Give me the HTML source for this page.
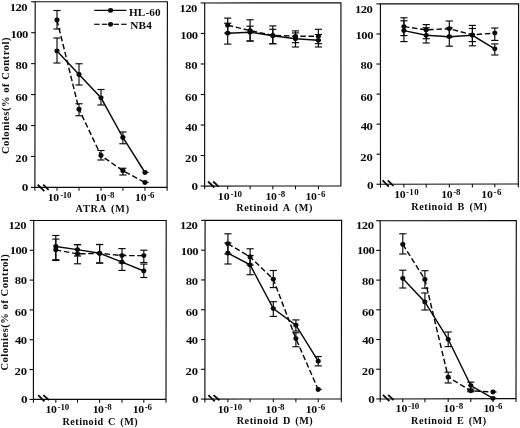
<!DOCTYPE html>
<html><head><meta charset="utf-8"><title>Colony assays</title>
<style>
html,body{margin:0;padding:0;background:#fff;}
body{width:520px;height:428px;overflow:hidden;}
svg{display:block;opacity:0.999;will-change:transform;font-family:"Liberation Serif",serif;font-weight:bold;}
svg text{fill:#0a0a0a;stroke:#0a0a0a;stroke-width:0.0;white-space:pre;}
</style></head><body>
<svg width="520" height="428" viewBox="0 0 520 428" stroke="#0a0a0a">
<rect x="0" y="0" width="520" height="428" fill="#fff" stroke="none"/>
<polygon points="35.20,1.75 167.40,1.75 167.10,187.40 34.90,187.40" fill="none" stroke-width="1.15"/>
<line x1="30.90" y1="187.40" x2="34.90" y2="187.40" stroke-width="1.1"/>
<text transform="translate(21.81,191.00) scale(1.2314,1)" font-size="10.7" letter-spacing="0.000">0</text>
<line x1="30.95" y1="156.46" x2="34.95" y2="156.46" stroke-width="1.1"/>
<text transform="translate(15.26,162.00) scale(1.1800,1)" font-size="10.7" letter-spacing="-0.098">20</text>
<line x1="31.00" y1="125.52" x2="35.00" y2="125.52" stroke-width="1.1"/>
<text transform="translate(15.64,131.00) scale(1.1800,1)" font-size="10.7" letter-spacing="-0.419">40</text>
<line x1="31.05" y1="94.58" x2="35.05" y2="94.58" stroke-width="1.1"/>
<text transform="translate(15.39,101.00) scale(1.1800,1)" font-size="10.7" letter-spacing="-0.205">60</text>
<line x1="31.10" y1="63.63" x2="35.10" y2="63.63" stroke-width="1.1"/>
<text transform="translate(15.39,69.00) scale(1.1800,1)" font-size="10.7" letter-spacing="-0.205">80</text>
<line x1="31.15" y1="32.69" x2="35.15" y2="32.69" stroke-width="1.1"/>
<text transform="translate(10.49,38.00) scale(1.1800,1)" font-size="10.7" letter-spacing="-0.447">100</text>
<line x1="31.20" y1="1.75" x2="35.20" y2="1.75" stroke-width="1.1"/>
<text transform="translate(9.79,11.00) scale(1.1800,1)" font-size="10.7" letter-spacing="-0.447">120</text>
<line x1="34.90" y1="187.40" x2="34.90" y2="190.70" stroke-width="1.05"/>
<line x1="57.00" y1="187.40" x2="57.00" y2="190.70" stroke-width="1.05"/>
<line x1="79.00" y1="187.40" x2="79.00" y2="190.70" stroke-width="1.05"/>
<line x1="101.00" y1="187.40" x2="101.00" y2="190.70" stroke-width="1.05"/>
<line x1="122.90" y1="187.40" x2="122.90" y2="190.70" stroke-width="1.05"/>
<line x1="145.00" y1="187.40" x2="145.00" y2="190.70" stroke-width="1.05"/>
<line x1="167.10" y1="187.40" x2="167.10" y2="190.70" stroke-width="1.05"/>
<line x1="37.70" y1="184.60" x2="44.30" y2="191.10" stroke-width="1.8"/>
<line x1="43.20" y1="184.70" x2="48.60" y2="189.90" stroke-width="1.8"/>
<text transform="translate(47.86,201.00) scale(1.1000,1)" font-size="10.7" letter-spacing="-0.352">10</text>
<text transform="translate(60.19,198.00) scale(1.1000,1)" font-size="8.1" letter-spacing="-0.285">-10</text>
<text transform="translate(94.86,201.00) scale(1.1000,1)" font-size="10.7" letter-spacing="0.012">10</text>
<text transform="translate(107.19,198.00) scale(1.1000,1)" font-size="8.1" letter-spacing="-0.197">-8</text>
<text transform="translate(134.96,201.00) scale(1.1000,1)" font-size="10.7" letter-spacing="-0.079">10</text>
<text transform="translate(147.39,198.00) scale(1.1000,1)" font-size="8.1" letter-spacing="-0.328">-6</text>
<text transform="translate(75.50,212.00) scale(1.0000,1)" font-size="10.2" letter-spacing="0.821" word-spacing="1.400">ATRA (M)</text>
<text transform="translate(8.90,154.10) rotate(-90) scale(1.0,1)" font-size="10.6" letter-spacing="0.517">Colonies(% of Control)</text>
<polyline points="57.00,50.90 79.00,74.50 101.00,97.80 122.90,137.50 145.00,172.50" fill="none" stroke-width="1.45"/>
<polyline points="57.00,20.00 79.00,109.25 101.00,155.50 122.90,170.75 145.00,182.50" fill="none" stroke-width="1.45" stroke-dasharray="5.5 2.7"/>
<line x1="57.00" y1="38.00" x2="57.00" y2="63.00" stroke-width="1.15"/>
<line x1="53.40" y1="38.00" x2="60.60" y2="38.00" stroke-width="1.15"/>
<line x1="53.40" y1="63.00" x2="60.60" y2="63.00" stroke-width="1.15"/>
<ellipse cx="57.00" cy="50.90" rx="2.55" ry="2.4" fill="#0a0a0a" stroke="none"/>
<line x1="79.00" y1="63.75" x2="79.00" y2="85.00" stroke-width="1.15"/>
<line x1="75.40" y1="63.75" x2="82.60" y2="63.75" stroke-width="1.15"/>
<line x1="75.40" y1="85.00" x2="82.60" y2="85.00" stroke-width="1.15"/>
<ellipse cx="79.00" cy="74.50" rx="2.55" ry="2.4" fill="#0a0a0a" stroke="none"/>
<line x1="101.00" y1="89.50" x2="101.00" y2="105.00" stroke-width="1.15"/>
<line x1="97.40" y1="89.50" x2="104.60" y2="89.50" stroke-width="1.15"/>
<line x1="97.40" y1="105.00" x2="104.60" y2="105.00" stroke-width="1.15"/>
<ellipse cx="101.00" cy="97.80" rx="2.55" ry="2.4" fill="#0a0a0a" stroke="none"/>
<line x1="122.90" y1="132.00" x2="122.90" y2="143.75" stroke-width="1.15"/>
<line x1="119.30" y1="132.00" x2="126.50" y2="132.00" stroke-width="1.15"/>
<line x1="119.30" y1="143.75" x2="126.50" y2="143.75" stroke-width="1.15"/>
<ellipse cx="122.90" cy="137.50" rx="2.55" ry="2.4" fill="#0a0a0a" stroke="none"/>
<line x1="144.28" y1="172.50" x2="148.60" y2="172.50" stroke-width="1.15"/>
<ellipse cx="145.00" cy="172.50" rx="2.55" ry="2.4" fill="#0a0a0a" stroke="none"/>
<line x1="57.00" y1="10.50" x2="57.00" y2="29.00" stroke-width="1.15"/>
<line x1="53.40" y1="10.50" x2="60.60" y2="10.50" stroke-width="1.15"/>
<line x1="53.40" y1="29.00" x2="60.60" y2="29.00" stroke-width="1.15"/>
<ellipse cx="57.00" cy="20.00" rx="2.55" ry="2.4" fill="#0a0a0a" stroke="none"/>
<line x1="79.00" y1="103.75" x2="79.00" y2="115.75" stroke-width="1.15"/>
<line x1="75.40" y1="103.75" x2="82.60" y2="103.75" stroke-width="1.15"/>
<line x1="75.40" y1="115.75" x2="82.60" y2="115.75" stroke-width="1.15"/>
<ellipse cx="79.00" cy="109.25" rx="2.55" ry="2.4" fill="#0a0a0a" stroke="none"/>
<line x1="101.00" y1="150.50" x2="101.00" y2="160.00" stroke-width="1.15"/>
<line x1="97.40" y1="150.50" x2="104.60" y2="150.50" stroke-width="1.15"/>
<line x1="97.40" y1="160.00" x2="104.60" y2="160.00" stroke-width="1.15"/>
<ellipse cx="101.00" cy="155.50" rx="2.55" ry="2.4" fill="#0a0a0a" stroke="none"/>
<line x1="122.90" y1="168.25" x2="122.90" y2="175.00" stroke-width="1.15"/>
<line x1="119.30" y1="168.25" x2="126.50" y2="168.25" stroke-width="1.15"/>
<line x1="119.30" y1="175.00" x2="126.50" y2="175.00" stroke-width="1.15"/>
<ellipse cx="122.90" cy="170.75" rx="2.55" ry="2.4" fill="#0a0a0a" stroke="none"/>
<line x1="144.28" y1="182.50" x2="148.60" y2="182.50" stroke-width="1.15"/>
<ellipse cx="145.00" cy="182.50" rx="2.55" ry="2.4" fill="#0a0a0a" stroke="none"/>
<polygon points="204.70,2.95 340.95,2.90 340.90,185.85 204.65,186.05" fill="none" stroke-width="1.15"/>
<line x1="200.65" y1="186.05" x2="204.65" y2="186.05" stroke-width="1.1"/>
<text transform="translate(191.51,190.00) scale(1.2314,1)" font-size="10.7" letter-spacing="0.000">0</text>
<line x1="200.66" y1="155.53" x2="204.66" y2="155.53" stroke-width="1.1"/>
<text transform="translate(184.96,162.00) scale(1.1800,1)" font-size="10.7" letter-spacing="-0.098">20</text>
<line x1="200.67" y1="125.02" x2="204.67" y2="125.02" stroke-width="1.1"/>
<text transform="translate(185.34,131.00) scale(1.1800,1)" font-size="10.7" letter-spacing="-0.419">40</text>
<line x1="200.68" y1="94.50" x2="204.68" y2="94.50" stroke-width="1.1"/>
<text transform="translate(185.09,101.00) scale(1.1800,1)" font-size="10.7" letter-spacing="-0.205">60</text>
<line x1="200.68" y1="63.98" x2="204.68" y2="63.98" stroke-width="1.1"/>
<text transform="translate(185.09,69.00) scale(1.1800,1)" font-size="10.7" letter-spacing="-0.205">80</text>
<line x1="200.69" y1="33.47" x2="204.69" y2="33.47" stroke-width="1.1"/>
<text transform="translate(180.19,39.00) scale(1.1800,1)" font-size="10.7" letter-spacing="-0.447">100</text>
<line x1="200.70" y1="2.95" x2="204.70" y2="2.95" stroke-width="1.1"/>
<text transform="translate(179.39,12.00) scale(1.1800,1)" font-size="10.7" letter-spacing="-0.447">120</text>
<line x1="204.65" y1="186.05" x2="204.65" y2="189.35" stroke-width="1.05"/>
<line x1="227.70" y1="186.02" x2="227.70" y2="189.32" stroke-width="1.05"/>
<line x1="250.10" y1="185.98" x2="250.10" y2="189.28" stroke-width="1.05"/>
<line x1="272.80" y1="185.95" x2="272.80" y2="189.25" stroke-width="1.05"/>
<line x1="295.50" y1="185.92" x2="295.50" y2="189.22" stroke-width="1.05"/>
<line x1="318.40" y1="185.88" x2="318.40" y2="189.18" stroke-width="1.05"/>
<line x1="208.00" y1="181.50" x2="214.30" y2="187.50" stroke-width="1.8"/>
<line x1="213.20" y1="181.50" x2="218.60" y2="186.60" stroke-width="1.8"/>
<text transform="translate(217.86,200.00) scale(1.1000,1)" font-size="10.7" letter-spacing="-0.079">10</text>
<text transform="translate(230.49,197.00) scale(1.1000,1)" font-size="8.1" letter-spacing="-0.194">-10</text>
<text transform="translate(265.56,200.00) scale(1.1000,1)" font-size="10.7" letter-spacing="-0.352">10</text>
<text transform="translate(277.89,197.00) scale(1.1000,1)" font-size="8.1" letter-spacing="-0.106">-8</text>
<text transform="translate(305.46,200.00) scale(1.1000,1)" font-size="10.7" letter-spacing="-0.261">10</text>
<text transform="translate(317.59,197.00) scale(1.1000,1)" font-size="8.1" letter-spacing="0.490">-6</text>
<text transform="translate(236.22,211.00) scale(1.0000,1)" font-size="10.2" letter-spacing="0.635" word-spacing="1.400">Retinoid A (M)</text>
<polyline points="227.70,33.20 250.10,32.20 272.80,35.80 295.50,38.70 318.40,40.30" fill="none" stroke-width="1.45"/>
<polyline points="227.70,25.20 250.10,30.60 272.80,35.40 295.50,36.30 318.40,36.30" fill="none" stroke-width="1.45" stroke-dasharray="5.5 2.7"/>
<line x1="227.70" y1="23.20" x2="227.70" y2="44.10" stroke-width="1.15"/>
<line x1="224.10" y1="23.20" x2="231.30" y2="23.20" stroke-width="1.15"/>
<line x1="224.10" y1="44.10" x2="231.30" y2="44.10" stroke-width="1.15"/>
<ellipse cx="227.70" cy="33.20" rx="2.55" ry="2.4" fill="#0a0a0a" stroke="none"/>
<line x1="250.10" y1="26.20" x2="250.10" y2="41.00" stroke-width="1.15"/>
<line x1="246.50" y1="26.20" x2="253.70" y2="26.20" stroke-width="1.15"/>
<line x1="246.50" y1="41.00" x2="253.70" y2="41.00" stroke-width="1.15"/>
<ellipse cx="250.10" cy="32.20" rx="2.55" ry="2.4" fill="#0a0a0a" stroke="none"/>
<line x1="272.80" y1="29.30" x2="272.80" y2="43.70" stroke-width="1.15"/>
<line x1="269.20" y1="29.30" x2="276.40" y2="29.30" stroke-width="1.15"/>
<line x1="269.20" y1="43.70" x2="276.40" y2="43.70" stroke-width="1.15"/>
<ellipse cx="272.80" cy="35.80" rx="2.55" ry="2.4" fill="#0a0a0a" stroke="none"/>
<line x1="295.50" y1="32.90" x2="295.50" y2="47.00" stroke-width="1.15"/>
<line x1="291.90" y1="32.90" x2="299.10" y2="32.90" stroke-width="1.15"/>
<line x1="291.90" y1="47.00" x2="299.10" y2="47.00" stroke-width="1.15"/>
<ellipse cx="295.50" cy="38.70" rx="2.55" ry="2.4" fill="#0a0a0a" stroke="none"/>
<line x1="318.40" y1="34.50" x2="318.40" y2="47.00" stroke-width="1.15"/>
<line x1="314.80" y1="34.50" x2="322.00" y2="34.50" stroke-width="1.15"/>
<line x1="314.80" y1="47.00" x2="322.00" y2="47.00" stroke-width="1.15"/>
<ellipse cx="318.40" cy="40.30" rx="2.55" ry="2.4" fill="#0a0a0a" stroke="none"/>
<line x1="227.70" y1="18.10" x2="227.70" y2="33.00" stroke-width="1.15"/>
<line x1="224.10" y1="18.10" x2="231.30" y2="18.10" stroke-width="1.15"/>
<line x1="224.10" y1="33.00" x2="231.30" y2="33.00" stroke-width="1.15"/>
<ellipse cx="227.70" cy="25.20" rx="2.55" ry="2.4" fill="#0a0a0a" stroke="none"/>
<line x1="250.10" y1="19.80" x2="250.10" y2="41.00" stroke-width="1.15"/>
<line x1="246.50" y1="19.80" x2="253.70" y2="19.80" stroke-width="1.15"/>
<line x1="246.50" y1="41.00" x2="253.70" y2="41.00" stroke-width="1.15"/>
<ellipse cx="250.10" cy="30.60" rx="2.55" ry="2.4" fill="#0a0a0a" stroke="none"/>
<line x1="272.80" y1="25.90" x2="272.80" y2="43.70" stroke-width="1.15"/>
<line x1="269.20" y1="25.90" x2="276.40" y2="25.90" stroke-width="1.15"/>
<line x1="269.20" y1="43.70" x2="276.40" y2="43.70" stroke-width="1.15"/>
<ellipse cx="272.80" cy="35.40" rx="2.55" ry="2.4" fill="#0a0a0a" stroke="none"/>
<line x1="295.50" y1="30.90" x2="295.50" y2="42.70" stroke-width="1.15"/>
<line x1="291.90" y1="30.90" x2="299.10" y2="30.90" stroke-width="1.15"/>
<line x1="291.90" y1="42.70" x2="299.10" y2="42.70" stroke-width="1.15"/>
<ellipse cx="295.50" cy="36.30" rx="2.55" ry="2.4" fill="#0a0a0a" stroke="none"/>
<line x1="318.40" y1="29.30" x2="318.40" y2="43.70" stroke-width="1.15"/>
<line x1="314.80" y1="29.30" x2="322.00" y2="29.30" stroke-width="1.15"/>
<line x1="314.80" y1="43.70" x2="322.00" y2="43.70" stroke-width="1.15"/>
<ellipse cx="318.40" cy="36.30" rx="2.55" ry="2.4" fill="#0a0a0a" stroke="none"/>
<polygon points="380.40,3.90 518.60,3.85 518.30,184.00 380.50,184.25" fill="none" stroke-width="1.15"/>
<line x1="376.50" y1="184.25" x2="380.50" y2="184.25" stroke-width="1.1"/>
<text transform="translate(366.91,189.00) scale(1.2314,1)" font-size="10.7" letter-spacing="0.000">0</text>
<line x1="376.48" y1="154.19" x2="380.48" y2="154.19" stroke-width="1.1"/>
<text transform="translate(360.36,161.00) scale(1.1800,1)" font-size="10.7" letter-spacing="-0.098">20</text>
<line x1="376.47" y1="124.13" x2="380.47" y2="124.13" stroke-width="1.1"/>
<text transform="translate(360.74,130.00) scale(1.1800,1)" font-size="10.7" letter-spacing="-0.419">40</text>
<line x1="376.45" y1="94.08" x2="380.45" y2="94.08" stroke-width="1.1"/>
<text transform="translate(360.49,101.00) scale(1.1800,1)" font-size="10.7" letter-spacing="-0.205">60</text>
<line x1="376.43" y1="64.02" x2="380.43" y2="64.02" stroke-width="1.1"/>
<text transform="translate(360.49,69.00) scale(1.1800,1)" font-size="10.7" letter-spacing="-0.205">80</text>
<line x1="376.42" y1="33.96" x2="380.42" y2="33.96" stroke-width="1.1"/>
<text transform="translate(355.59,39.00) scale(1.1800,1)" font-size="10.7" letter-spacing="-0.447">100</text>
<line x1="376.40" y1="3.90" x2="380.40" y2="3.90" stroke-width="1.1"/>
<text transform="translate(354.89,13.00) scale(1.1800,1)" font-size="10.7" letter-spacing="-0.447">120</text>
<line x1="380.50" y1="184.25" x2="380.50" y2="187.55" stroke-width="1.05"/>
<line x1="403.90" y1="184.21" x2="403.90" y2="187.51" stroke-width="1.05"/>
<line x1="426.20" y1="184.17" x2="426.20" y2="187.47" stroke-width="1.05"/>
<line x1="449.30" y1="184.13" x2="449.30" y2="187.43" stroke-width="1.05"/>
<line x1="472.40" y1="184.08" x2="472.40" y2="187.38" stroke-width="1.05"/>
<line x1="494.80" y1="184.04" x2="494.80" y2="187.34" stroke-width="1.05"/>
<line x1="518.30" y1="184.00" x2="518.30" y2="187.30" stroke-width="1.05"/>
<line x1="382.60" y1="180.40" x2="388.80" y2="186.65" stroke-width="1.8"/>
<line x1="387.80" y1="180.40" x2="393.40" y2="185.80" stroke-width="1.8"/>
<text transform="translate(394.16,198.00) scale(1.1000,1)" font-size="10.7" letter-spacing="-0.352">10</text>
<text transform="translate(405.89,195.00) scale(1.1000,1)" font-size="8.1" letter-spacing="0.397">-10</text>
<text transform="translate(441.26,198.00) scale(1.1000,1)" font-size="10.7" letter-spacing="-0.352">10</text>
<text transform="translate(453.19,195.00) scale(1.1000,1)" font-size="8.1" letter-spacing="-0.196">-8</text>
<text transform="translate(481.36,198.00) scale(1.1000,1)" font-size="10.7" letter-spacing="-0.261">10</text>
<text transform="translate(493.39,195.00) scale(1.1000,1)" font-size="8.1" letter-spacing="0.490">-6</text>
<text transform="translate(411.22,210.00) scale(1.0000,1)" font-size="10.2" letter-spacing="0.561" word-spacing="1.400">Retinoid B (M)</text>
<polyline points="403.90,30.60 426.20,35.30 449.30,36.70 472.40,35.30 494.80,48.80" fill="none" stroke-width="1.45"/>
<polyline points="403.90,26.60 426.20,29.90 449.30,28.70 472.40,34.80 494.80,33.10" fill="none" stroke-width="1.45" stroke-dasharray="5.5 2.7"/>
<line x1="403.90" y1="20.80" x2="403.90" y2="41.60" stroke-width="1.15"/>
<line x1="400.30" y1="20.80" x2="407.50" y2="20.80" stroke-width="1.15"/>
<line x1="400.30" y1="41.60" x2="407.50" y2="41.60" stroke-width="1.15"/>
<ellipse cx="403.90" cy="30.60" rx="2.55" ry="2.4" fill="#0a0a0a" stroke="none"/>
<line x1="426.20" y1="27.80" x2="426.20" y2="43.00" stroke-width="1.15"/>
<line x1="422.60" y1="27.80" x2="429.80" y2="27.80" stroke-width="1.15"/>
<line x1="422.60" y1="43.00" x2="429.80" y2="43.00" stroke-width="1.15"/>
<ellipse cx="426.20" cy="35.30" rx="2.55" ry="2.4" fill="#0a0a0a" stroke="none"/>
<line x1="449.30" y1="28.00" x2="449.30" y2="46.20" stroke-width="1.15"/>
<line x1="445.70" y1="28.00" x2="452.90" y2="28.00" stroke-width="1.15"/>
<line x1="445.70" y1="46.20" x2="452.90" y2="46.20" stroke-width="1.15"/>
<ellipse cx="449.30" cy="36.70" rx="2.55" ry="2.4" fill="#0a0a0a" stroke="none"/>
<line x1="472.40" y1="28.50" x2="472.40" y2="45.80" stroke-width="1.15"/>
<line x1="468.80" y1="28.50" x2="476.00" y2="28.50" stroke-width="1.15"/>
<line x1="468.80" y1="45.80" x2="476.00" y2="45.80" stroke-width="1.15"/>
<ellipse cx="472.40" cy="35.30" rx="2.55" ry="2.4" fill="#0a0a0a" stroke="none"/>
<line x1="494.80" y1="43.90" x2="494.80" y2="55.00" stroke-width="1.15"/>
<line x1="491.20" y1="43.90" x2="498.40" y2="43.90" stroke-width="1.15"/>
<line x1="491.20" y1="55.00" x2="498.40" y2="55.00" stroke-width="1.15"/>
<ellipse cx="494.80" cy="48.80" rx="2.55" ry="2.4" fill="#0a0a0a" stroke="none"/>
<line x1="403.90" y1="17.80" x2="403.90" y2="35.60" stroke-width="1.15"/>
<line x1="400.30" y1="17.80" x2="407.50" y2="17.80" stroke-width="1.15"/>
<line x1="400.30" y1="35.60" x2="407.50" y2="35.60" stroke-width="1.15"/>
<ellipse cx="403.90" cy="26.60" rx="2.55" ry="2.4" fill="#0a0a0a" stroke="none"/>
<line x1="426.20" y1="24.60" x2="426.20" y2="38.70" stroke-width="1.15"/>
<line x1="422.60" y1="24.60" x2="429.80" y2="24.60" stroke-width="1.15"/>
<line x1="422.60" y1="38.70" x2="429.80" y2="38.70" stroke-width="1.15"/>
<ellipse cx="426.20" cy="29.90" rx="2.55" ry="2.4" fill="#0a0a0a" stroke="none"/>
<line x1="449.30" y1="21.00" x2="449.30" y2="37.00" stroke-width="1.15"/>
<line x1="445.70" y1="21.00" x2="452.90" y2="21.00" stroke-width="1.15"/>
<line x1="445.70" y1="37.00" x2="452.90" y2="37.00" stroke-width="1.15"/>
<ellipse cx="449.30" cy="28.70" rx="2.55" ry="2.4" fill="#0a0a0a" stroke="none"/>
<line x1="472.40" y1="25.40" x2="472.40" y2="41.60" stroke-width="1.15"/>
<line x1="468.80" y1="25.40" x2="476.00" y2="25.40" stroke-width="1.15"/>
<line x1="468.80" y1="41.60" x2="476.00" y2="41.60" stroke-width="1.15"/>
<ellipse cx="472.40" cy="34.80" rx="2.55" ry="2.4" fill="#0a0a0a" stroke="none"/>
<line x1="494.80" y1="28.00" x2="494.80" y2="40.40" stroke-width="1.15"/>
<line x1="491.20" y1="28.00" x2="498.40" y2="28.00" stroke-width="1.15"/>
<line x1="491.20" y1="40.40" x2="498.40" y2="40.40" stroke-width="1.15"/>
<ellipse cx="494.80" cy="33.10" rx="2.55" ry="2.4" fill="#0a0a0a" stroke="none"/>
<polygon points="33.75,220.45 166.20,220.50 166.00,399.40 33.40,399.40" fill="none" stroke-width="1.15"/>
<line x1="29.40" y1="399.40" x2="33.40" y2="399.40" stroke-width="1.1"/>
<text transform="translate(21.11,403.00) scale(1.2314,1)" font-size="10.7" letter-spacing="0.000">0</text>
<line x1="29.46" y1="369.57" x2="33.46" y2="369.57" stroke-width="1.1"/>
<text transform="translate(14.56,375.00) scale(1.1800,1)" font-size="10.7" letter-spacing="-0.098">20</text>
<line x1="29.52" y1="339.75" x2="33.52" y2="339.75" stroke-width="1.1"/>
<text transform="translate(14.94,344.00) scale(1.1800,1)" font-size="10.7" letter-spacing="-0.419">40</text>
<line x1="29.58" y1="309.92" x2="33.58" y2="309.92" stroke-width="1.1"/>
<text transform="translate(14.69,316.00) scale(1.1800,1)" font-size="10.7" letter-spacing="-0.205">60</text>
<line x1="29.63" y1="280.10" x2="33.63" y2="280.10" stroke-width="1.1"/>
<text transform="translate(14.69,284.00) scale(1.1800,1)" font-size="10.7" letter-spacing="-0.205">80</text>
<line x1="29.69" y1="250.27" x2="33.69" y2="250.27" stroke-width="1.1"/>
<text transform="translate(9.79,254.00) scale(1.1800,1)" font-size="10.7" letter-spacing="-0.447">100</text>
<line x1="29.75" y1="220.45" x2="33.75" y2="220.45" stroke-width="1.1"/>
<text transform="translate(8.59,229.00) scale(1.1800,1)" font-size="10.7" letter-spacing="-0.447">120</text>
<line x1="33.40" y1="399.40" x2="33.40" y2="402.70" stroke-width="1.05"/>
<line x1="55.80" y1="399.40" x2="55.80" y2="402.70" stroke-width="1.05"/>
<line x1="77.50" y1="399.40" x2="77.50" y2="402.70" stroke-width="1.05"/>
<line x1="99.60" y1="399.40" x2="99.60" y2="402.70" stroke-width="1.05"/>
<line x1="122.00" y1="399.40" x2="122.00" y2="402.70" stroke-width="1.05"/>
<line x1="143.80" y1="399.40" x2="143.80" y2="402.70" stroke-width="1.05"/>
<line x1="166.00" y1="399.40" x2="166.00" y2="402.70" stroke-width="1.05"/>
<line x1="38.20" y1="395.10" x2="44.40" y2="401.40" stroke-width="1.8"/>
<line x1="43.40" y1="395.10" x2="49.00" y2="400.20" stroke-width="1.8"/>
<text transform="translate(45.56,413.00) scale(1.1000,1)" font-size="10.7" letter-spacing="-0.443">10</text>
<text transform="translate(57.49,410.00) scale(1.1000,1)" font-size="8.1" letter-spacing="-0.058">-10</text>
<text transform="translate(92.66,413.00) scale(1.1000,1)" font-size="10.7" letter-spacing="-0.534">10</text>
<text transform="translate(104.59,410.00) scale(1.1000,1)" font-size="8.1" letter-spacing="-0.287">-8</text>
<text transform="translate(132.66,413.00) scale(1.1000,1)" font-size="10.7" letter-spacing="-0.261">10</text>
<text transform="translate(144.79,410.00) scale(1.1000,1)" font-size="8.1" letter-spacing="-0.146">-6</text>
<text transform="translate(62.42,425.00) scale(1.0000,1)" font-size="10.2" letter-spacing="0.480" word-spacing="1.400">Retinoid C (M)</text>
<text transform="translate(8.20,370.60) rotate(-90) scale(1.0,1)" font-size="10.6" letter-spacing="0.508">Colonies(% of Control)</text>
<polyline points="55.80,246.50 77.50,249.60 99.60,253.30 122.00,262.10 143.80,271.00" fill="none" stroke-width="1.45"/>
<polyline points="55.80,249.90 77.50,253.90 99.60,253.30 122.00,255.60 143.80,255.60" fill="none" stroke-width="1.45" stroke-dasharray="5.5 2.7"/>
<line x1="55.80" y1="235.50" x2="55.80" y2="259.70" stroke-width="1.15"/>
<line x1="52.20" y1="235.50" x2="59.40" y2="235.50" stroke-width="1.15"/>
<line x1="52.20" y1="259.70" x2="59.40" y2="259.70" stroke-width="1.15"/>
<ellipse cx="55.80" cy="246.50" rx="2.55" ry="2.4" fill="#0a0a0a" stroke="none"/>
<line x1="77.50" y1="244.50" x2="77.50" y2="256.00" stroke-width="1.15"/>
<line x1="73.90" y1="244.50" x2="81.10" y2="244.50" stroke-width="1.15"/>
<line x1="73.90" y1="256.00" x2="81.10" y2="256.00" stroke-width="1.15"/>
<ellipse cx="77.50" cy="249.60" rx="2.55" ry="2.4" fill="#0a0a0a" stroke="none"/>
<line x1="99.60" y1="244.50" x2="99.60" y2="263.10" stroke-width="1.15"/>
<line x1="96.00" y1="244.50" x2="103.20" y2="244.50" stroke-width="1.15"/>
<line x1="96.00" y1="263.10" x2="103.20" y2="263.10" stroke-width="1.15"/>
<ellipse cx="99.60" cy="253.30" rx="2.55" ry="2.4" fill="#0a0a0a" stroke="none"/>
<line x1="122.00" y1="255.00" x2="122.00" y2="270.40" stroke-width="1.15"/>
<line x1="118.40" y1="255.00" x2="125.60" y2="255.00" stroke-width="1.15"/>
<line x1="118.40" y1="270.40" x2="125.60" y2="270.40" stroke-width="1.15"/>
<ellipse cx="122.00" cy="262.10" rx="2.55" ry="2.4" fill="#0a0a0a" stroke="none"/>
<line x1="143.80" y1="264.10" x2="143.80" y2="277.50" stroke-width="1.15"/>
<line x1="140.20" y1="264.10" x2="147.40" y2="264.10" stroke-width="1.15"/>
<line x1="140.20" y1="277.50" x2="147.40" y2="277.50" stroke-width="1.15"/>
<ellipse cx="143.80" cy="271.00" rx="2.55" ry="2.4" fill="#0a0a0a" stroke="none"/>
<line x1="55.80" y1="239.10" x2="55.80" y2="260.50" stroke-width="1.15"/>
<line x1="52.20" y1="239.10" x2="59.40" y2="239.10" stroke-width="1.15"/>
<line x1="52.20" y1="260.50" x2="59.40" y2="260.50" stroke-width="1.15"/>
<ellipse cx="55.80" cy="249.90" rx="2.55" ry="2.4" fill="#0a0a0a" stroke="none"/>
<line x1="77.50" y1="244.80" x2="77.50" y2="263.80" stroke-width="1.15"/>
<line x1="73.90" y1="244.80" x2="81.10" y2="244.80" stroke-width="1.15"/>
<line x1="73.90" y1="263.80" x2="81.10" y2="263.80" stroke-width="1.15"/>
<ellipse cx="77.50" cy="253.90" rx="2.55" ry="2.4" fill="#0a0a0a" stroke="none"/>
<line x1="99.60" y1="244.50" x2="99.60" y2="263.00" stroke-width="1.15"/>
<line x1="96.00" y1="244.50" x2="103.20" y2="244.50" stroke-width="1.15"/>
<line x1="96.00" y1="263.00" x2="103.20" y2="263.00" stroke-width="1.15"/>
<ellipse cx="99.60" cy="253.30" rx="2.55" ry="2.4" fill="#0a0a0a" stroke="none"/>
<line x1="122.00" y1="248.60" x2="122.00" y2="263.00" stroke-width="1.15"/>
<line x1="118.40" y1="248.60" x2="125.60" y2="248.60" stroke-width="1.15"/>
<line x1="118.40" y1="263.00" x2="125.60" y2="263.00" stroke-width="1.15"/>
<ellipse cx="122.00" cy="255.60" rx="2.55" ry="2.4" fill="#0a0a0a" stroke="none"/>
<line x1="143.80" y1="250.20" x2="143.80" y2="262.50" stroke-width="1.15"/>
<line x1="140.20" y1="250.20" x2="147.40" y2="250.20" stroke-width="1.15"/>
<line x1="140.20" y1="262.50" x2="147.40" y2="262.50" stroke-width="1.15"/>
<ellipse cx="143.80" cy="255.60" rx="2.55" ry="2.4" fill="#0a0a0a" stroke="none"/>
<polygon points="205.10,220.35 341.60,220.40 341.30,398.95 204.90,399.10" fill="none" stroke-width="1.15"/>
<line x1="200.90" y1="399.10" x2="204.90" y2="399.10" stroke-width="1.1"/>
<text transform="translate(192.11,403.00) scale(1.2314,1)" font-size="10.7" letter-spacing="0.000">0</text>
<line x1="200.93" y1="369.31" x2="204.93" y2="369.31" stroke-width="1.1"/>
<text transform="translate(185.56,375.00) scale(1.1800,1)" font-size="10.7" letter-spacing="-0.098">20</text>
<line x1="200.97" y1="339.52" x2="204.97" y2="339.52" stroke-width="1.1"/>
<text transform="translate(185.94,344.00) scale(1.1800,1)" font-size="10.7" letter-spacing="-0.419">40</text>
<line x1="201.00" y1="309.73" x2="205.00" y2="309.73" stroke-width="1.1"/>
<text transform="translate(185.69,316.00) scale(1.1800,1)" font-size="10.7" letter-spacing="-0.205">60</text>
<line x1="201.03" y1="279.93" x2="205.03" y2="279.93" stroke-width="1.1"/>
<text transform="translate(185.69,285.00) scale(1.1800,1)" font-size="10.7" letter-spacing="-0.205">80</text>
<line x1="201.07" y1="250.14" x2="205.07" y2="250.14" stroke-width="1.1"/>
<text transform="translate(180.79,255.00) scale(1.1800,1)" font-size="10.7" letter-spacing="-0.447">100</text>
<line x1="201.10" y1="220.35" x2="205.10" y2="220.35" stroke-width="1.1"/>
<text transform="translate(179.89,229.00) scale(1.1800,1)" font-size="10.7" letter-spacing="-0.447">120</text>
<line x1="204.90" y1="399.10" x2="204.90" y2="402.40" stroke-width="1.05"/>
<line x1="227.90" y1="399.07" x2="227.90" y2="402.37" stroke-width="1.05"/>
<line x1="250.10" y1="399.05" x2="250.10" y2="402.35" stroke-width="1.05"/>
<line x1="273.30" y1="399.02" x2="273.30" y2="402.32" stroke-width="1.05"/>
<line x1="295.90" y1="399.00" x2="295.90" y2="402.30" stroke-width="1.05"/>
<line x1="318.20" y1="398.98" x2="318.20" y2="402.28" stroke-width="1.05"/>
<line x1="341.30" y1="398.95" x2="341.30" y2="402.25" stroke-width="1.05"/>
<line x1="208.30" y1="395.10" x2="214.80" y2="401.40" stroke-width="1.8"/>
<line x1="213.50" y1="395.10" x2="219.50" y2="400.20" stroke-width="1.8"/>
<text transform="translate(217.76,413.00) scale(1.1000,1)" font-size="10.7" letter-spacing="-0.261">10</text>
<text transform="translate(229.89,410.00) scale(1.1000,1)" font-size="8.1" letter-spacing="0.261">-10</text>
<text transform="translate(265.56,413.00) scale(1.1000,1)" font-size="10.7" letter-spacing="-0.261">10</text>
<text transform="translate(277.49,410.00) scale(1.1000,1)" font-size="8.1" letter-spacing="-0.469">-8</text>
<text transform="translate(305.66,413.00) scale(1.1000,1)" font-size="10.7" letter-spacing="-0.261">10</text>
<text transform="translate(317.69,410.00) scale(1.1000,1)" font-size="8.1" letter-spacing="0.036">-6</text>
<text transform="translate(236.72,424.00) scale(1.0000,1)" font-size="10.2" letter-spacing="0.541" word-spacing="1.400">Retinoid D (M)</text>
<polyline points="227.90,253.10 250.10,264.90 273.30,308.60 295.90,325.20 318.20,361.20" fill="none" stroke-width="1.45"/>
<polyline points="227.90,243.70 250.10,256.90 273.30,279.20 295.90,338.60 318.20,389.50" fill="none" stroke-width="1.45" stroke-dasharray="5.5 2.7"/>
<line x1="227.90" y1="243.00" x2="227.90" y2="264.00" stroke-width="1.15"/>
<line x1="224.30" y1="243.00" x2="231.50" y2="243.00" stroke-width="1.15"/>
<line x1="224.30" y1="264.00" x2="231.50" y2="264.00" stroke-width="1.15"/>
<ellipse cx="227.90" cy="253.10" rx="2.55" ry="2.4" fill="#0a0a0a" stroke="none"/>
<line x1="250.10" y1="255.40" x2="250.10" y2="274.70" stroke-width="1.15"/>
<line x1="246.50" y1="255.40" x2="253.70" y2="255.40" stroke-width="1.15"/>
<line x1="246.50" y1="274.70" x2="253.70" y2="274.70" stroke-width="1.15"/>
<ellipse cx="250.10" cy="264.90" rx="2.55" ry="2.4" fill="#0a0a0a" stroke="none"/>
<line x1="273.30" y1="301.70" x2="273.30" y2="316.40" stroke-width="1.15"/>
<line x1="269.70" y1="301.70" x2="276.90" y2="301.70" stroke-width="1.15"/>
<line x1="269.70" y1="316.40" x2="276.90" y2="316.40" stroke-width="1.15"/>
<ellipse cx="273.30" cy="308.60" rx="2.55" ry="2.4" fill="#0a0a0a" stroke="none"/>
<line x1="295.90" y1="319.90" x2="295.90" y2="331.00" stroke-width="1.15"/>
<line x1="292.30" y1="319.90" x2="299.50" y2="319.90" stroke-width="1.15"/>
<line x1="292.30" y1="331.00" x2="299.50" y2="331.00" stroke-width="1.15"/>
<ellipse cx="295.90" cy="325.20" rx="2.55" ry="2.4" fill="#0a0a0a" stroke="none"/>
<line x1="318.20" y1="356.50" x2="318.20" y2="365.90" stroke-width="1.15"/>
<line x1="314.60" y1="356.50" x2="321.80" y2="356.50" stroke-width="1.15"/>
<line x1="314.60" y1="365.90" x2="321.80" y2="365.90" stroke-width="1.15"/>
<ellipse cx="318.20" cy="361.20" rx="2.55" ry="2.4" fill="#0a0a0a" stroke="none"/>
<line x1="227.90" y1="233.80" x2="227.90" y2="254.00" stroke-width="1.15"/>
<line x1="224.30" y1="233.80" x2="231.50" y2="233.80" stroke-width="1.15"/>
<line x1="224.30" y1="254.00" x2="231.50" y2="254.00" stroke-width="1.15"/>
<ellipse cx="227.90" cy="243.70" rx="2.55" ry="2.4" fill="#0a0a0a" stroke="none"/>
<line x1="250.10" y1="248.80" x2="250.10" y2="265.00" stroke-width="1.15"/>
<line x1="246.50" y1="248.80" x2="253.70" y2="248.80" stroke-width="1.15"/>
<line x1="246.50" y1="265.00" x2="253.70" y2="265.00" stroke-width="1.15"/>
<ellipse cx="250.10" cy="256.90" rx="2.55" ry="2.4" fill="#0a0a0a" stroke="none"/>
<line x1="273.30" y1="270.50" x2="273.30" y2="287.60" stroke-width="1.15"/>
<line x1="269.70" y1="270.50" x2="276.90" y2="270.50" stroke-width="1.15"/>
<line x1="269.70" y1="287.60" x2="276.90" y2="287.60" stroke-width="1.15"/>
<ellipse cx="273.30" cy="279.20" rx="2.55" ry="2.4" fill="#0a0a0a" stroke="none"/>
<line x1="295.90" y1="332.70" x2="295.90" y2="346.70" stroke-width="1.15"/>
<line x1="292.30" y1="332.70" x2="299.50" y2="332.70" stroke-width="1.15"/>
<line x1="292.30" y1="346.70" x2="299.50" y2="346.70" stroke-width="1.15"/>
<ellipse cx="295.90" cy="338.60" rx="2.55" ry="2.4" fill="#0a0a0a" stroke="none"/>
<line x1="317.48" y1="389.50" x2="321.80" y2="389.50" stroke-width="1.15"/>
<ellipse cx="318.20" cy="389.50" rx="2.55" ry="2.4" fill="#0a0a0a" stroke="none"/>
<polygon points="380.20,220.70 516.30,220.60 516.00,398.60 380.25,398.95" fill="none" stroke-width="1.15"/>
<line x1="376.25" y1="398.95" x2="380.25" y2="398.95" stroke-width="1.1"/>
<text transform="translate(368.31,403.00) scale(1.2314,1)" font-size="10.7" letter-spacing="0.000">0</text>
<line x1="376.24" y1="369.24" x2="380.24" y2="369.24" stroke-width="1.1"/>
<text transform="translate(361.76,375.00) scale(1.1800,1)" font-size="10.7" letter-spacing="-0.098">20</text>
<line x1="376.23" y1="339.53" x2="380.23" y2="339.53" stroke-width="1.1"/>
<text transform="translate(362.14,344.00) scale(1.1800,1)" font-size="10.7" letter-spacing="-0.419">40</text>
<line x1="376.23" y1="309.82" x2="380.23" y2="309.82" stroke-width="1.1"/>
<text transform="translate(361.89,316.00) scale(1.1800,1)" font-size="10.7" letter-spacing="-0.205">60</text>
<line x1="376.22" y1="280.12" x2="380.22" y2="280.12" stroke-width="1.1"/>
<text transform="translate(361.89,285.00) scale(1.1800,1)" font-size="10.7" letter-spacing="-0.205">80</text>
<line x1="376.21" y1="250.41" x2="380.21" y2="250.41" stroke-width="1.1"/>
<text transform="translate(356.99,254.00) scale(1.1800,1)" font-size="10.7" letter-spacing="-0.447">100</text>
<line x1="376.20" y1="220.70" x2="380.20" y2="220.70" stroke-width="1.1"/>
<text transform="translate(356.09,229.00) scale(1.1800,1)" font-size="10.7" letter-spacing="-0.447">120</text>
<line x1="380.25" y1="398.95" x2="380.25" y2="402.25" stroke-width="1.05"/>
<line x1="402.80" y1="398.89" x2="402.80" y2="402.19" stroke-width="1.05"/>
<line x1="424.90" y1="398.83" x2="424.90" y2="402.13" stroke-width="1.05"/>
<line x1="448.20" y1="398.77" x2="448.20" y2="402.07" stroke-width="1.05"/>
<line x1="470.80" y1="398.72" x2="470.80" y2="402.02" stroke-width="1.05"/>
<line x1="493.00" y1="398.66" x2="493.00" y2="401.96" stroke-width="1.05"/>
<line x1="516.00" y1="398.60" x2="516.00" y2="401.90" stroke-width="1.05"/>
<line x1="382.90" y1="394.80" x2="389.40" y2="401.20" stroke-width="1.8"/>
<line x1="388.10" y1="394.80" x2="393.70" y2="400.20" stroke-width="1.8"/>
<text transform="translate(395.56,412.00) scale(1.1000,1)" font-size="10.7" letter-spacing="0.012">10</text>
<text transform="translate(407.89,409.00) scale(1.1000,1)" font-size="8.1" letter-spacing="-0.194">-10</text>
<text transform="translate(443.56,412.00) scale(1.1000,1)" font-size="10.7" letter-spacing="-0.170">10</text>
<text transform="translate(455.79,409.00) scale(1.1000,1)" font-size="8.1" letter-spacing="-0.106">-8</text>
<text transform="translate(483.46,412.00) scale(1.1000,1)" font-size="10.7" letter-spacing="-0.534">10</text>
<text transform="translate(495.19,409.00) scale(1.1000,1)" font-size="8.1" letter-spacing="-0.055">-6</text>
<text transform="translate(411.12,424.00) scale(1.0000,1)" font-size="10.2" letter-spacing="0.500" word-spacing="1.400">Retinoid E (M)</text>
<polyline points="402.80,278.40 424.90,301.90 448.20,339.30 470.80,385.60 493.00,398.30" fill="none" stroke-width="1.45"/>
<polyline points="402.80,244.40 424.90,279.40 448.20,377.20 470.80,390.80 493.00,392.00" fill="none" stroke-width="1.45" stroke-dasharray="5.5 2.7"/>
<line x1="402.80" y1="270.20" x2="402.80" y2="288.00" stroke-width="1.15"/>
<line x1="399.20" y1="270.20" x2="406.40" y2="270.20" stroke-width="1.15"/>
<line x1="399.20" y1="288.00" x2="406.40" y2="288.00" stroke-width="1.15"/>
<ellipse cx="402.80" cy="278.40" rx="2.55" ry="2.4" fill="#0a0a0a" stroke="none"/>
<line x1="424.90" y1="293.00" x2="424.90" y2="310.00" stroke-width="1.15"/>
<line x1="421.30" y1="293.00" x2="428.50" y2="293.00" stroke-width="1.15"/>
<line x1="421.30" y1="310.00" x2="428.50" y2="310.00" stroke-width="1.15"/>
<ellipse cx="424.90" cy="301.90" rx="2.55" ry="2.4" fill="#0a0a0a" stroke="none"/>
<line x1="448.20" y1="332.00" x2="448.20" y2="346.60" stroke-width="1.15"/>
<line x1="444.60" y1="332.00" x2="451.80" y2="332.00" stroke-width="1.15"/>
<line x1="444.60" y1="346.60" x2="451.80" y2="346.60" stroke-width="1.15"/>
<ellipse cx="448.20" cy="339.30" rx="2.55" ry="2.4" fill="#0a0a0a" stroke="none"/>
<line x1="470.80" y1="382.10" x2="470.80" y2="389.00" stroke-width="1.15"/>
<line x1="467.20" y1="382.10" x2="474.40" y2="382.10" stroke-width="1.15"/>
<line x1="467.20" y1="389.00" x2="474.40" y2="389.00" stroke-width="1.15"/>
<ellipse cx="470.80" cy="385.60" rx="2.55" ry="2.4" fill="#0a0a0a" stroke="none"/>
<line x1="492.28" y1="398.30" x2="496.60" y2="398.30" stroke-width="1.15"/>
<ellipse cx="493.00" cy="398.30" rx="2.55" ry="2.4" fill="#0a0a0a" stroke="none"/>
<line x1="402.80" y1="233.80" x2="402.80" y2="254.00" stroke-width="1.15"/>
<line x1="399.20" y1="233.80" x2="406.40" y2="233.80" stroke-width="1.15"/>
<line x1="399.20" y1="254.00" x2="406.40" y2="254.00" stroke-width="1.15"/>
<ellipse cx="402.80" cy="244.40" rx="2.55" ry="2.4" fill="#0a0a0a" stroke="none"/>
<line x1="424.90" y1="270.70" x2="424.90" y2="288.20" stroke-width="1.15"/>
<line x1="421.30" y1="270.70" x2="428.50" y2="270.70" stroke-width="1.15"/>
<line x1="421.30" y1="288.20" x2="428.50" y2="288.20" stroke-width="1.15"/>
<ellipse cx="424.90" cy="279.40" rx="2.55" ry="2.4" fill="#0a0a0a" stroke="none"/>
<line x1="448.20" y1="372.20" x2="448.20" y2="383.00" stroke-width="1.15"/>
<line x1="444.60" y1="372.20" x2="451.80" y2="372.20" stroke-width="1.15"/>
<line x1="444.60" y1="383.00" x2="451.80" y2="383.00" stroke-width="1.15"/>
<ellipse cx="448.20" cy="377.20" rx="2.55" ry="2.4" fill="#0a0a0a" stroke="none"/>
<line x1="470.80" y1="390.80" x2="470.80" y2="391.70" stroke-width="1.15"/>
<line x1="467.20" y1="390.80" x2="474.40" y2="390.80" stroke-width="1.15"/>
<line x1="467.20" y1="391.70" x2="474.40" y2="391.70" stroke-width="1.15"/>
<ellipse cx="470.80" cy="390.80" rx="2.55" ry="2.4" fill="#0a0a0a" stroke="none"/>
<line x1="492.28" y1="392.00" x2="496.60" y2="392.00" stroke-width="1.15"/>
<ellipse cx="493.00" cy="392.00" rx="2.55" ry="2.4" fill="#0a0a0a" stroke="none"/>
<line x1="94.20" y1="10.40" x2="126.50" y2="10.40" stroke-width="1.25"/>
<ellipse cx="110.60" cy="10.40" rx="2.55" ry="2.4" fill="#0a0a0a" stroke="none"/>
<line x1="94.20" y1="24.30" x2="99.60" y2="24.30" stroke-width="1.25"/>
<line x1="101.90" y1="24.30" x2="107.30" y2="24.30" stroke-width="1.25"/>
<line x1="113.60" y1="24.30" x2="119.00" y2="24.30" stroke-width="1.25"/>
<line x1="121.20" y1="24.30" x2="126.50" y2="24.30" stroke-width="1.25"/>
<ellipse cx="110.60" cy="24.30" rx="2.55" ry="2.4" fill="#0a0a0a" stroke="none"/>
<text transform="translate(128.90,16.00) scale(1.1000,1)" font-size="10.2" letter-spacing="0.126">HL-60</text>
<text transform="translate(130.20,29.00) scale(1.1000,1)" font-size="10.2" letter-spacing="0.221">NB4</text>
</svg>
</body></html>
